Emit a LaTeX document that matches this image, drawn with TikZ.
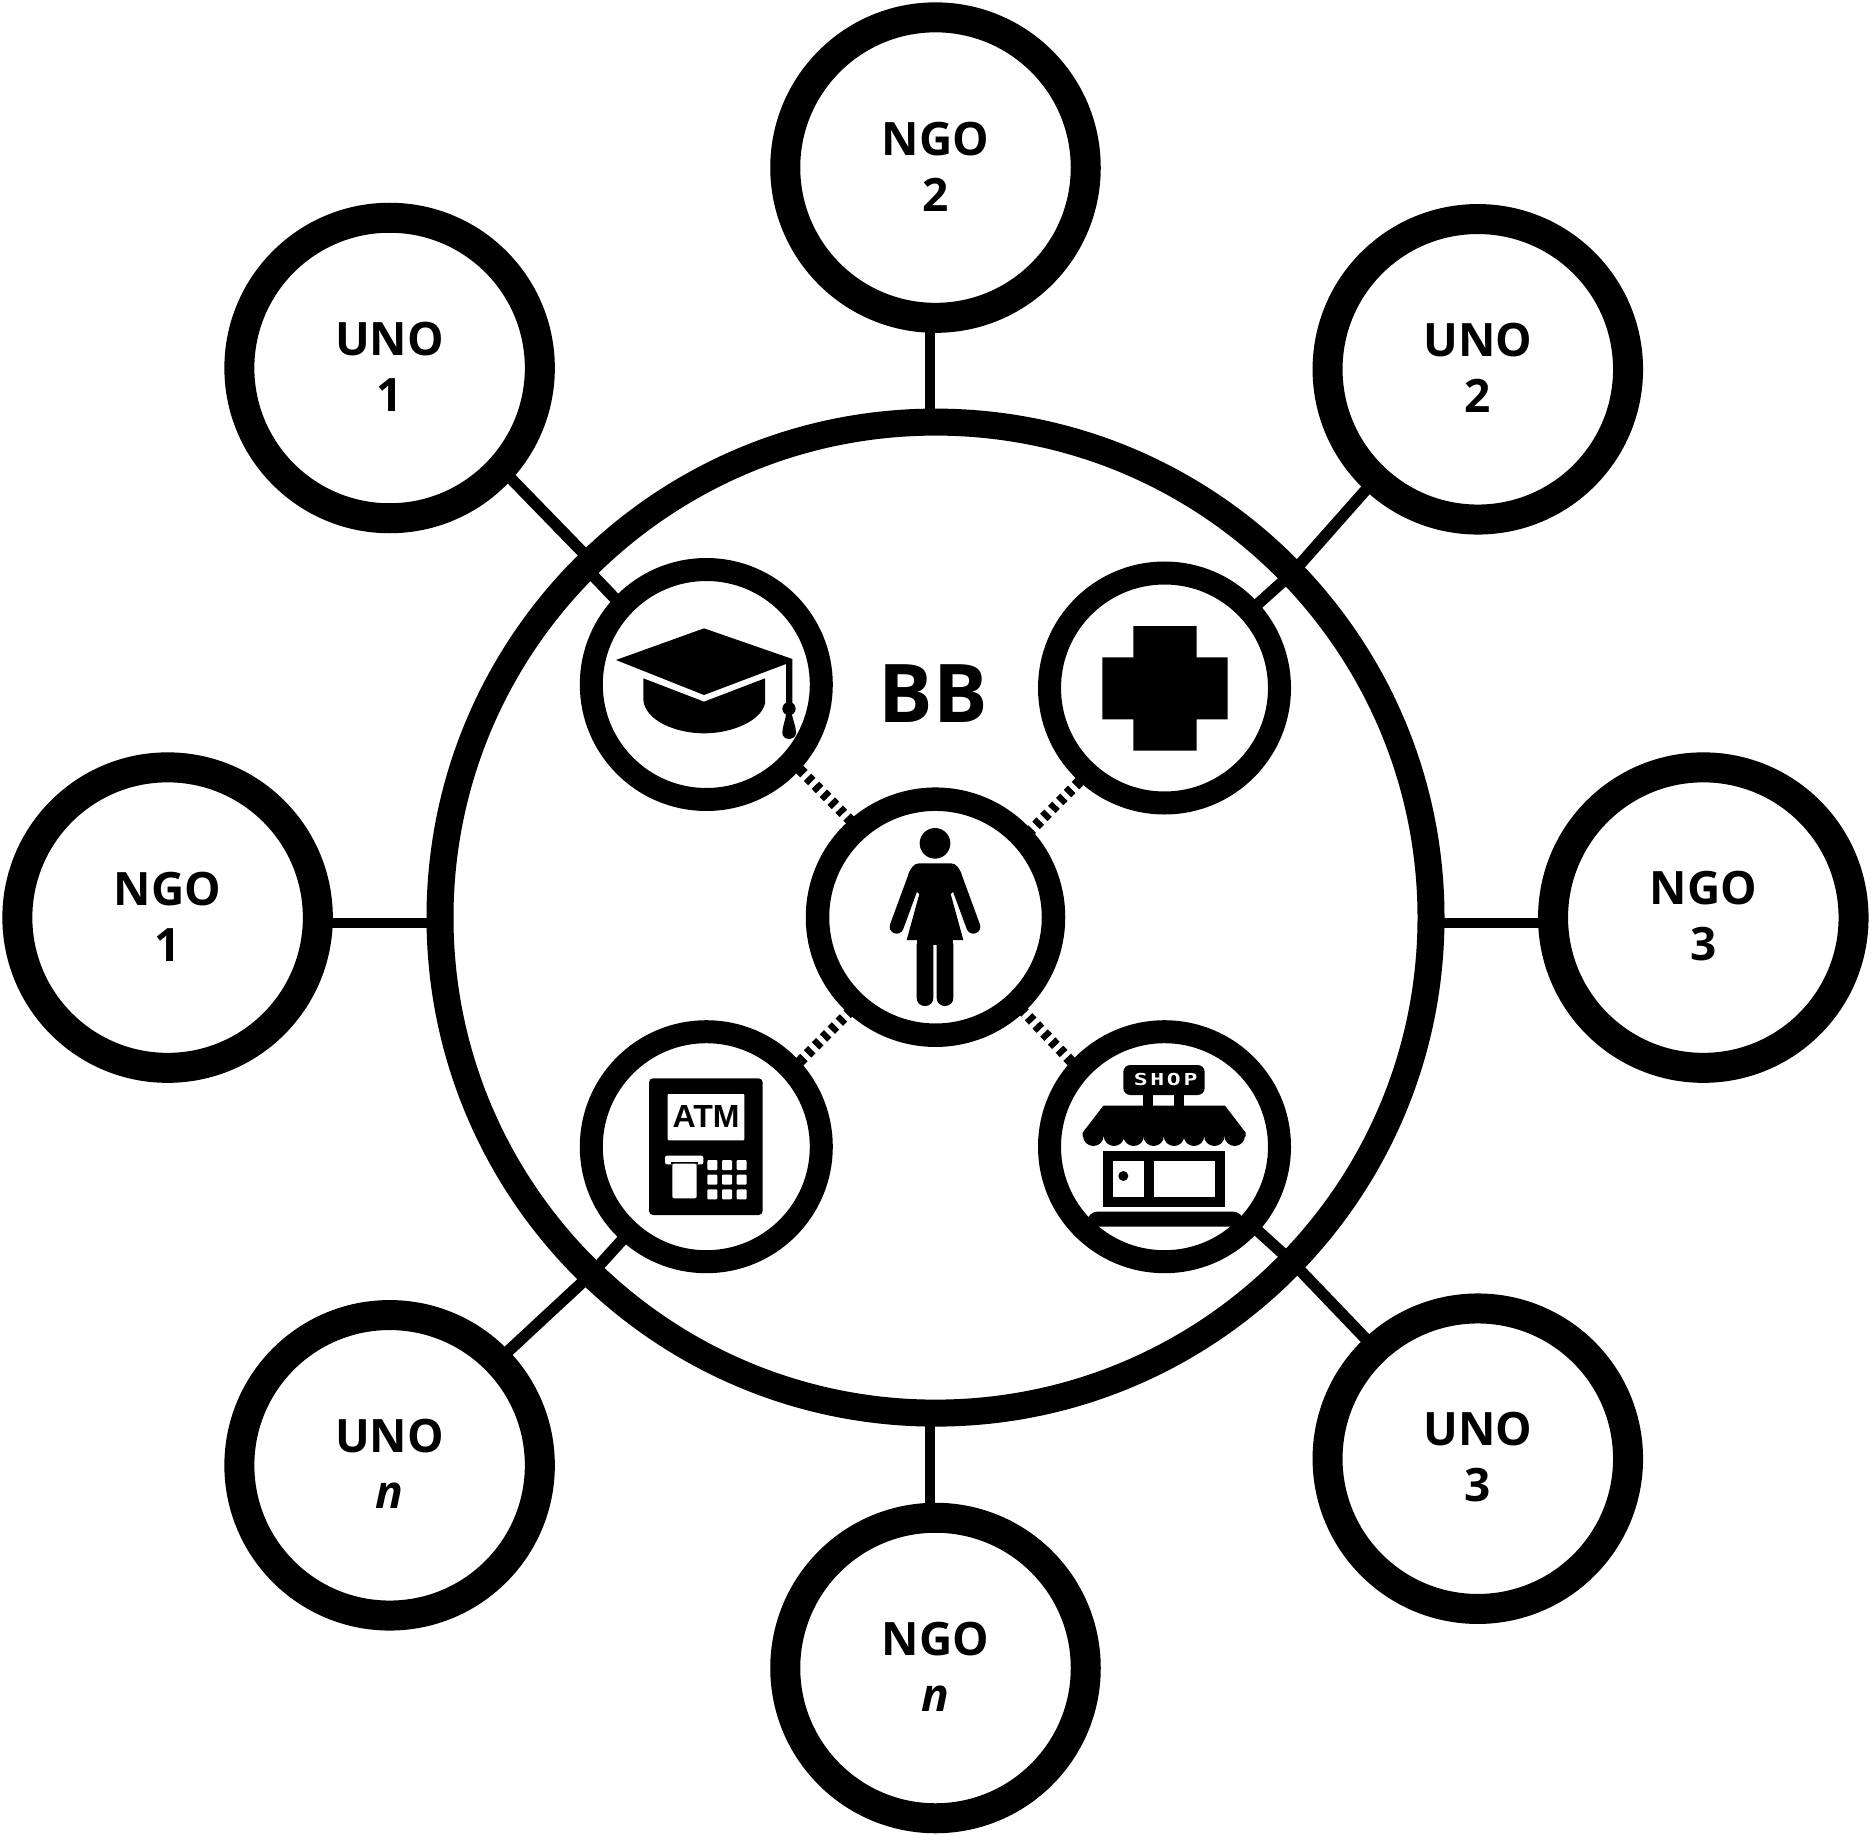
\documentclass[tikz,border=0pt]{standalone}
\usepackage{fontspec}
\setmainfont{Open Sans}
\newfontfamily\lblfont{Open Sans}
\newfontfamily\bbfont[LetterSpace=1]{Open Sans}
\newfontfamily\atmfont{Liberation Sans}
\newfontfamily\shopfont[FakeStretch=1.4,LetterSpace=16]{DejaVu Sans Mono}
\newcommand\botline[1]{\raisebox{0pt}[\height][\dimexpr\depth+2.4pt\relax]{#1}}
\tikzset{
  bigring/.style={circle,draw=black,line width=27pt,minimum size=991pt,inner sep=0pt,outer sep=0pt},
  orgring/.style={circle,draw=black,line width=30pt,minimum size=300.5pt,inner sep=0pt,outer sep=0pt,align=center,
    font=\lblfont\bfseries\fontsize{46}{56}\selectfont},
  svcring/.style={circle,draw=black,line width=23pt,minimum size=230pt,inner sep=0pt,outer sep=0pt},
  womanring/.style={circle,draw=black,line width=23.5pt,minimum size=236pt,inner sep=0pt,outer sep=0pt},
  link/.style={draw=black,line width=10pt},
  diaglink/.style={draw=black,line width=11.5pt},
  dashlink/.style={draw=black,line width=10.5pt,dash pattern=on 6pt off 5.2pt},
  icon/.style={x=0.33333pt,y=-0.33333pt},
}
\begin{document}
\begin{tikzpicture}[x=1pt,y=-1pt]
\fill[white] (0,0) rectangle (1871,1835);
\useasboundingbox (0,0) rectangle (1871,1835);
% rings
\node[bigring] (bb) at (935.5,917.6) {};
\node[orgring] (ngo2) at (935.5,167.6) {NGO\\\botline{2}};
\node[orgring] (uno1) at (389.6,368) {UNO\\\botline{1}};
\node[orgring] (uno2) at (1477.8,369.3) {UNO\\\botline{2}};
\node[orgring] (ngo1) at (167.6,917.6) {NGO\\\botline{1}};
\node[orgring] (ngo3) at (1703.3,917.6) {NGO\\\botline{3}};
\node[orgring] (unon) at (389.6,1465.3) {UNO\\\botline{\textit{n}}};
\node[orgring] (ngon) at (935.5,1668) {NGO\\\botline{\textit{n}}};
\node[orgring] (uno3) at (1477.8,1458.7) {UNO\\\botline{3}};
\node[svcring] (edu) at (706.3,684.5) {};
\node[svcring] (health) at (1164.5,688) {};
\node[svcring] (atm) at (706.3,1146.7) {};
\node[svcring] (shop) at (1164.5,1146.7) {};
\node[womanring] (woman) at (935.5,917.2) {};
\node[font=\bbfont\bfseries\fontsize{81}{81}\selectfont] (bblabel) at (933.5,693.5) {BB};
% straight links
\draw[link] ([xshift=-5.5pt]ngo2.south) -- ([xshift=-5.5pt]bb.north);
\draw[link] ([xshift=-5.5pt]ngon.north) -- ([xshift=-5.5pt]bb.south);
\draw[link] ([yshift=-5pt]ngo1.east) -- ([yshift=-5pt]bb.west);
\draw[link] ([yshift=-5pt]ngo3.west) -- ([yshift=-5pt]bb.east);
% diagonal links, outer part
\draw[diaglink] (uno1.-42.9) -- (bb.134.6);
\draw[diaglink] (uno2.-133) -- (bb.44.3);
\draw[diaglink] (unon.44) -- (bb.-134.4);
\draw[diaglink] (uno3.133.2) -- (bb.-44.3);
% diagonal links, inner part
\draw[diaglink] (bb.135.3) -- (edu.137.5);
\draw[diaglink] (bb.44.3) -- (health.42.7);
\draw[diaglink] (bb.-134.4) -- (atm.-132.8);
\draw[diaglink] (bb.-44.2) -- (shop.-42.4);
% dashed links
\draw[dashlink] (edu.-42.9) -- (woman.131.7);
\draw[dashlink] (health.-132.4) -- (woman.42.4);
\draw[dashlink] (atm.42.2) -- (woman.-132.3);
\draw[dashlink] (shop.138) -- (woman.-47.9);
% mortarboard
\begin{scope}[shift={(560,540)},icon]
\fill (168,360) -- (432,265) -- (697,357) -- (697,490) -- (678,490) -- (678,372) -- (432,465) -- cycle;
\fill (687,506) circle (20);
\fill (679,520) -- (695,520) .. controls (700,545) and (708,560) .. (708,578) .. controls (708,603) and (667,603) .. (667,578) .. controls (667,560) and (675,545) .. (679,520) -- cycle;
\fill (250,415) -- (432,485) -- (615,415) -- (615,490) .. controls (605,540) and (520,580) .. (432,580) .. controls (345,580) and (255,540) .. (250,480) -- cycle;
\end{scope}
% health cross
\begin{scope}[shift={(860,620)},icon]
\fill (820,18) -- (1010,18) -- (1010,112) -- (1103,112) -- (1103,298) -- (1010,298) -- (1010,392) -- (820,392) -- (820,298) -- (727,298) -- (727,112) -- (820,112) -- cycle;
\end{scope}
% woman
\begin{scope}[shift={(820,760)},icon]
\fill (345,250) circle (46);
\draw[line width=14pt,line cap=round] (287,345) -- (230,500);
\draw[line width=14pt,line cap=round] (403,345) -- (460,500);
\fill (297,310) -- (393,310) .. controls (408,310) and (418,325) .. (424,340) -- (400,395) -- (392,402) -- (430,540) -- (260,540) -- (298,402) -- (290,395) -- (266,340) .. controls (272,325) and (282,310) .. (297,310) -- cycle;
\fill (290,530) rectangle (400,555);
\fill[rounded corners=8pt] (290,530) -- (340,530) -- (340,738) -- (290,738) -- cycle;
\fill[rounded corners=8pt] (350,530) -- (400,530) -- (400,738) -- (350,738) -- cycle;
\end{scope}
% ATM
\begin{scope}[shift={(580,1030)},icon]
\fill[rounded corners=4pt] (207,145) rectangle (548,555);
\fill[white,rounded corners=1pt] (263,192) rectangle (493,331);
\fill[white,rounded corners=2pt] (255,377) rectangle (370,403);
\fill (272,396) rectangle (355,402);
\fill[white,rounded corners=2pt] (277,401) rectangle (350,505);
\foreach \cx in {382,426,470}
  \foreach \cy in {390,434,478}
    \fill[white,rounded corners=1pt] (\cx,\cy) rectangle ++(30,30);
\node[font=\atmfont\bfseries\fontsize{32}{32}\selectfont,inner sep=0pt] (atmtext) at (378,260) {ATM};
\end{scope}
% shop
\begin{scope}[shift={(1030,1010)},icon]
\fill[rounded corners=7pt] (280,165) rectangle (524,255);
\fill (340,250) rectangle (370,295);
\fill (433,250) rectangle (463,295);
\fill (220,287) -- (585,287) -- (647,368) -- (647,380) -- (158,380) -- (158,368) -- cycle;
\foreach \sx in {190,252,311,371,432,492,553,614}
  \fill (\sx,377) circle (31);
\fill (220,423) rectangle (585,590);
\fill[white] (250,453) rectangle (342,560);
\fill[white] (372,453) rectangle (555,560);
\fill (280,498) circle (15);
\fill[rounded corners=10pt] (172,605) rectangle (640,650);
\node[text=white,font=\shopfont\bfseries\fontsize{16.5}{16.5}\selectfont,inner sep=0pt] (shoptext) at (407,208) {SHOP};
\end{scope}
\end{tikzpicture}
\end{document}
